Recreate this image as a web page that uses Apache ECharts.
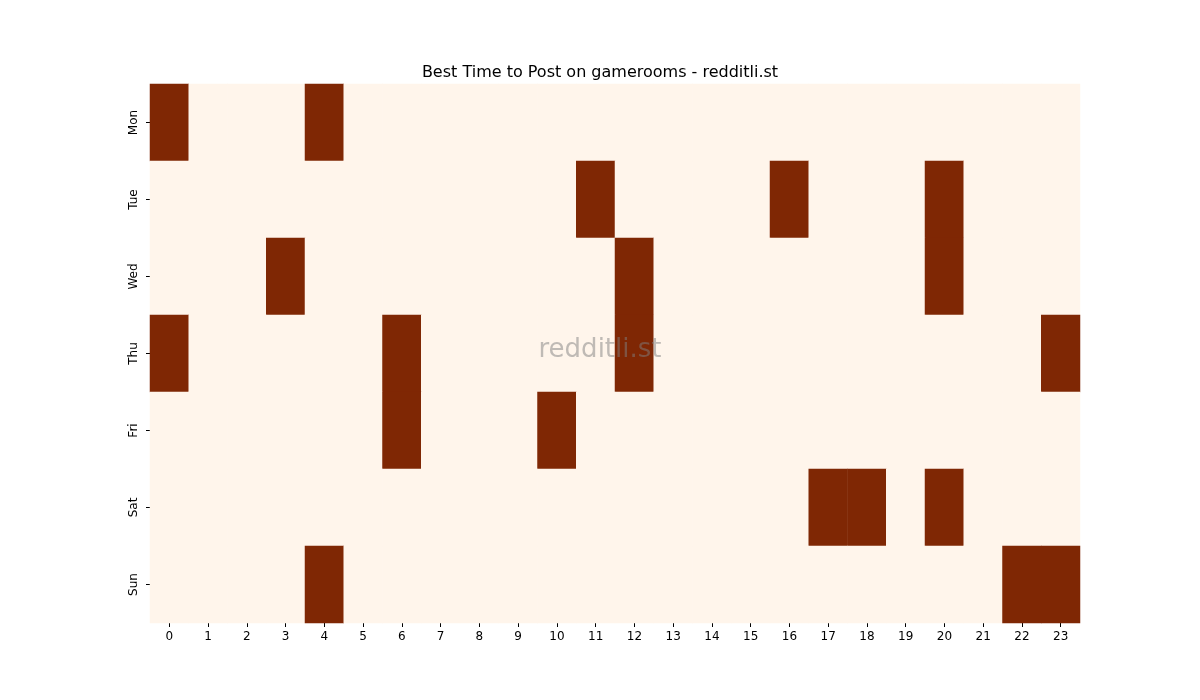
<!DOCTYPE html>
<html>
<head>
<meta charset="utf-8">
<script src="https://cdn.jsdelivr.net/npm/echarts@6/dist/echarts.min.js"></script>
<style>html,body{margin:0;padding:0;background:#fff}#main{width:1200px;height:700px}</style>
</head>
<body>
<div id="main"></div>
<script>
var hours = ['0','1','2','3','4','5','6','7','8','9','10','11','12','13','14','15','16','17','18','19','20','21','22','23'];
var days = ['Mon','Tue','Wed','Thu','Fri','Sat','Sun'];
// best hours per day (value 1), everything else 0
var monBest = [0, 4];
var tueBest = [11, 16, 20];
var wedBest = [3, 12, 20];
var thuBest = [0, 6, 12, 23];
var friBest = [6, 10];
var satBest = [17, 18, 20];
var sunBest = [4, 22, 23];
var bestByDay = [monBest, tueBest, wedBest, thuBest, friBest, satBest, sunBest];

var data = [];
for (var d = 0; d < days.length; d++) {
    for (var h = 0; h < hours.length; h++) {
        data.push([h, d, bestByDay[d].indexOf(h) >= 0 ? 1 : 0]);
    }
}

var chart = echarts.init(document.getElementById('main'));
chart.setOption({
    animation: false,
    title: {
        text: 'Best Time to Post on gamerooms - redditli.st',
        left: 'center', top: 60,
        textStyle: {fontFamily: 'DejaVu Sans', fontSize: 16, fontWeight: 'normal', color: '#000'}
    },
    graphic: [{
        type: 'text', left: 'center', top: 337, z: 100,
        style: {text: 'redditli.st', fontFamily: 'DejaVu Sans', fontSize: 26, fill: 'rgba(128,128,128,0.5)'}
    }],
    grid: {left: 150, right: 120, top: 84, bottom: 77},
    xAxis: {
        type: 'category', data: hours,
        axisLine: {show: false},
        axisTick: {show: true, alignWithLabel: true, length: 4, lineStyle: {color: '#000'}},
        axisLabel: {color: '#000', fontFamily: 'DejaVu Sans', fontSize: 12, margin: 8},
        splitArea: {show: false}
    },
    yAxis: {
        type: 'category', data: days, inverse: true,
        axisLine: {show: false},
        axisTick: {show: true, alignWithLabel: true, length: 4, lineStyle: {color: '#000'}},
        axisLabel: {color: '#000', fontFamily: 'DejaVu Sans', fontSize: 12, rotate: 90, margin: 10}
    },
    visualMap: {show: false, min: 0, max: 1, inRange: {color: ['#fff5eb', '#7f2704']}},
    series: [{
        type: 'heatmap', data: data,
        itemStyle: {borderWidth: 0}
    }]
});
</script>
</body>
</html>
